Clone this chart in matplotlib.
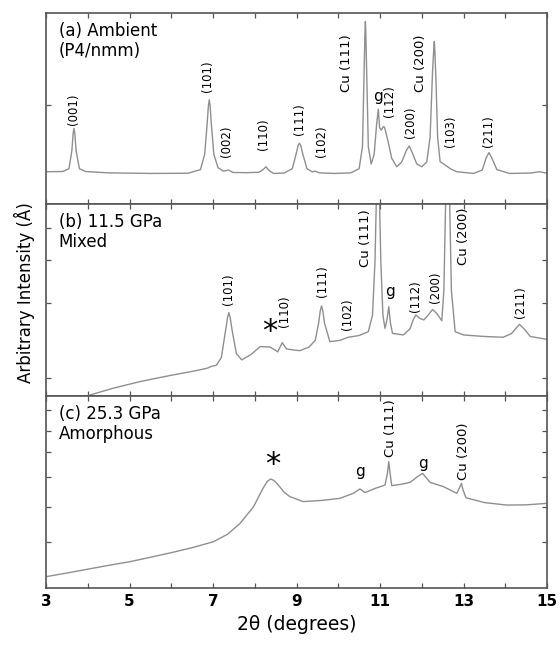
import matplotlib
matplotlib.use("Agg")
import matplotlib.pyplot as plt

# ---- data (2theta [deg], arbitrary intensity) ----
two_theta_a = [3.00, 3.40, 3.55, 3.62, 3.65, 3.67, 3.69, 3.72, 3.80, 3.95,
               4.50, 5.50, 6.40, 6.70, 6.80, 6.86, 6.89, 6.91, 6.93, 6.96,
               7.02, 7.12, 7.25, 7.37, 7.48, 7.80, 8.10, 8.20, 8.27, 8.34,
               8.45, 8.70, 8.90, 9.00, 9.04, 9.07, 9.10, 9.14, 9.25, 9.38,
               9.44, 9.55, 9.90, 10.30, 10.50, 10.58, 10.62, 10.64, 10.65, 10.66,
               10.68, 10.72, 10.79, 10.86, 10.92, 10.96, 10.99, 11.03, 11.08, 11.11,
               11.18, 11.28, 11.40, 11.52, 11.63, 11.70, 11.77, 11.88, 12.00, 12.12,
               12.20, 12.26, 12.29, 12.30, 12.31, 12.34, 12.38, 12.44, 12.56, 12.70,
               12.84, 13.24, 13.45, 13.54, 13.61, 13.68, 13.80, 14.10, 14.60, 14.83,
               15.00]
intensity_a = [16.9, 17.0, 18.5, 28.0, 37.0, 39.6, 37.0, 28.0, 18.5, 17.0,
               16.3, 16.0, 16.1, 18.0, 26.0, 42.0, 51.5, 54.5, 51.5, 42.0,
               26.0, 19.0, 17.2, 17.8, 16.5, 16.4, 16.6, 18.0, 19.5, 17.5,
               16.0, 16.2, 18.5, 27.0, 30.8, 31.8, 30.8, 27.0, 18.5, 16.8,
               17.2, 16.3, 16.0, 16.3, 18.5, 30.0, 70.0, 90.0, 95.5, 90.0,
               70.0, 30.0, 20.9, 26.0, 42.0, 49.6, 40.0, 38.7, 40.5, 40.1,
               34.0, 24.0, 19.5, 22.0, 28.0, 30.4, 27.0, 21.0, 19.5, 22.0,
               35.0, 70.0, 82.0, 85.0, 82.0, 65.0, 35.0, 22.2, 20.4, 18.3,
               16.9, 16.0, 17.8, 24.0, 26.9, 24.0, 18.0, 16.0, 16.2, 16.9,
               16.1]

two_theta_b = [3.00, 3.60, 4.05, 4.60, 5.25, 6.00, 6.50, 6.85, 6.97, 7.08,
               7.20, 7.30, 7.35, 7.38, 7.41, 7.46, 7.56, 7.69, 7.90, 8.13,
               8.37, 8.55, 8.66, 8.76, 8.92, 9.08, 9.30, 9.45, 9.53, 9.57,
               9.60, 9.63, 9.67, 9.80, 10.04, 10.24, 10.50, 10.72, 10.82, 10.88,
               10.92, 10.95, 10.98, 11.02, 11.07, 11.12, 11.17, 11.21, 11.25, 11.30,
               11.56, 11.72, 11.80, 11.86, 11.95, 12.05, 12.15, 12.26, 12.36, 12.48,
               12.53, 12.58, 12.62, 12.66, 12.71, 12.80, 13.00, 13.50, 13.95, 14.15,
               14.34, 14.45, 14.60, 15.00]
intensity_b = [-3.0, -1.5, 0.5, 4.0, 7.5, 10.8, 12.8, 14.4, 15.5, 16.0,
               20.0, 34.0, 41.0, 43.4, 41.0, 34.0, 22.0, 18.8, 21.5, 25.7,
               25.5, 23.0, 27.8, 24.5, 24.0, 23.6, 25.5, 29.0, 38.0, 44.5,
               46.9, 44.5, 38.0, 28.3, 29.0, 30.6, 31.5, 33.5, 42.0, 70.0,
               110.0, 130.0, 110.0, 70.0, 42.0, 35.2, 40.0, 46.5, 38.0, 32.6,
               31.8, 35.0, 40.0, 42.2, 40.5, 39.6, 42.0, 45.1, 43.0, 39.2,
               55.0, 110.0, 130.0, 110.0, 55.0, 33.5, 31.8, 31.0, 30.6, 32.5,
               37.3, 35.0, 31.0, 29.5]

two_theta_c = [3.00, 3.50, 4.00, 4.50, 5.01, 5.50, 6.00, 6.50, 7.01, 7.35,
               7.65, 7.97, 8.20, 8.30, 8.38, 8.46, 8.55, 8.70, 8.84, 9.16,
               9.60, 10.04, 10.36, 10.52, 10.64, 10.90, 11.12, 11.18, 11.21, 11.24,
               11.28, 11.50, 11.72, 11.90, 12.02, 12.20, 12.52, 12.84, 12.92, 12.95,
               12.99, 13.06, 13.50, 14.03, 14.50, 15.00]
intensity_c = [5.9, 7.8, 9.8, 11.8, 13.7, 16.0, 18.4, 21.0, 24.1, 28.0,
               33.7, 42.3, 52.0, 55.5, 56.8, 56.0, 54.0, 50.0, 47.6, 45.0,
               45.6, 46.7, 49.3, 51.6, 49.7, 52.0, 53.6, 60.0, 65.8, 60.0,
               53.3, 54.0, 55.0, 58.0, 59.7, 55.0, 52.8, 49.3, 53.0, 54.5,
               51.0, 47.0, 44.5, 43.2, 43.3, 44.1]

# ---- peak labels: (2theta, intensity, text) ----
labels_a = [(3.65, 41.4, "(001)"), (6.88, 58.8, "(101)"), (7.33, 24.8, "(002)"),
            (8.22, 28.3, "(110)"), (9.07, 36.1, "(111)"), (9.60, 24.8, "(102)"),
            (11.22, 45.7, "(112)"), (11.72, 34.4, "(200)"), (12.69, 30.0, "(103)"),
            (13.61, 30.0, "(211)")]
cu_labels_a = [(10.19, 58.8, "Cu (111)"), (11.96, 58.8, "Cu (200)")]
g_labels_a = [(10.96, 56.5)]
star_a = []

labels_b = [(7.38, 47.4, "(101)"), (8.72, 36.1, "(110)"), (9.63, 51.7, "(111)"),
            (10.22, 34.4, "(102)"), (11.86, 43.9, "(112)"), (12.33, 48.3, "(200)"),
            (14.37, 40.5, "(211)")]
cu_labels_b = [(10.66, 67.4, "Cu (111)"), (13.00, 68.2, "Cu (200)")]
g_labels_b = [(11.24, 54.3)]
star_b = [(8.37, 35.2)]

labels_c = []
cu_labels_c = [(11.24, 68.4, "Cu (111)"), (13.01, 56.3, "Cu (200)")]
g_labels_c = [(10.52, 60.6), (12.04, 64.9)]
star_c = [(8.44, 65.8)]

panel_titles = ["(a) Ambient\n(P4/nmm)", "(b) 11.5 GPa\nMixed", "(c) 25.3 GPa\nAmorphous"]
y_ticks = [[51.8], [9.4, 48.4, 70.8, 87.5], [24.0, 42.2, 57.8, 70.8, 81.8, 92.7]]
x_major = [3, 5, 7, 9, 11, 13, 15]

LINE_COLOR = "#8f8f8f"
SPINE_COLOR = "#555555"

panels = [
  (two_theta_a, intensity_a, labels_a, cu_labels_a, g_labels_a, star_a),
  (two_theta_b, intensity_b, labels_b, cu_labels_b, g_labels_b, star_b),
  (two_theta_c, intensity_c, labels_c, cu_labels_c, g_labels_c, star_c),
]

fig = plt.figure(figsize=(5.6, 6.47), dpi=100)
W, H = 560.0, 647.0
left, right = 46.0, 547.0
tops = [13.0, 204.0, 396.0]
bottoms = [204.0, 396.0, 588.0]

for i, (xs, ys, labs, cu_labs, g_labs, stars) in enumerate(panels):
  ax = fig.add_axes([left / W, 1 - bottoms[i] / H,
                     (right - left) / W, (bottoms[i] - tops[i]) / H])
  ax.plot(xs, ys, color=LINE_COLOR, lw=1.0)
  ax.set_xlim(3, 15)
  ax.set_ylim(0, 100)
  ax.set_xticks(x_major)
  ax.set_xticks(range(3, 16), minor=True)
  ax.set_yticks(y_ticks[i])
  ax.set_yticklabels([])
  ax.tick_params(which="both", direction="in", top=True, right=True,
                 length=3.5, width=0.9, color=SPINE_COLOR)
  for sp in ax.spines.values():
    sp.set_color(SPINE_COLOR)
    sp.set_linewidth(1.2)
  if i < 2:
    ax.set_xticklabels([])
  else:
    ax.set_xticklabels([str(v) for v in x_major], fontsize=11, fontweight="bold")
    ax.tick_params(axis="x", pad=4)

  ax.text(0.025, 0.955, panel_titles[i], transform=ax.transAxes,
          ha="left", va="top", fontsize=12, linespacing=1.15)
  for x, y, t in labs:
    ax.text(x, y, t, rotation=90, ha="center", va="bottom", fontsize=8.5)
  for x, y, t in cu_labs:
    ax.text(x, y, t, rotation=90, ha="center", va="bottom", fontsize=9.5)
  for x, y in g_labs:
    ax.text(x, y, "g", ha="center", va="center", fontsize=11)
  for x, y in stars:
    ax.text(x, y, "*", ha="center", va="center_baseline", fontsize=22)

fig.text(296.5 / W, 1 - 625 / H, "2θ (degrees)", ha="center", va="center",
         fontsize=13.5)
fig.text(24 / W, 1 - 293 / H, "Arbitrary Intensity (Å)", rotation=90,
         ha="center", va="center", fontsize=12)

fig.savefig("out.png", dpi=100)
